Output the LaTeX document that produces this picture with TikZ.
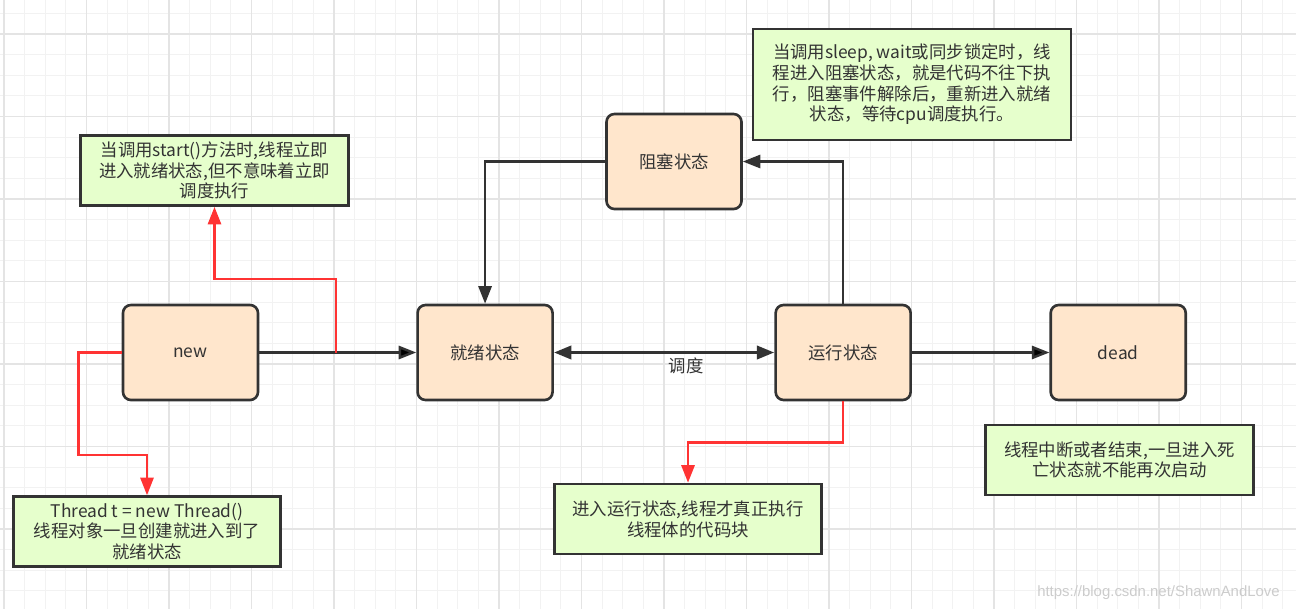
\documentclass[tikz,border=0pt]{standalone}
\usepackage{fontspec}
\setmainfont{Noto Sans CJK SC}
\newfontfamily\wmfont{Liberation Sans}
\usetikzlibrary{arrows.meta,positioning}
\definecolor{boxfill}{HTML}{FFE6CC}
\definecolor{notefill}{HTML}{E6FFCC}
\definecolor{linedark}{HTML}{333333}
\definecolor{hotred}{HTML}{FF3333}
\definecolor{gridminor}{HTML}{F2F2F2}
\definecolor{gridmajor}{HTML}{E4E4E4}
\newcommand{\diagfont}{\fontsize{9.9}{11.8}\selectfont}

\begin{document}
\begin{tikzpicture}[x=0.02cm,y=-0.02cm,>={Triangle[length=10pt,width=7.5pt]},line width=1.4pt,
  state node/.style={rectangle,rounded corners=4.5pt,fill=boxfill,draw=linedark,line width=1.5pt,
    minimum width=2.7cm,minimum height=1.9cm,inner sep=0pt,text=linedark,font=\diagfont},
  note node/.style={rectangle,fill=notefill,draw=linedark,line width=1.5pt,minimum width=5.35cm,
    minimum height=1.4cm,inner sep=0pt,align=center,text=linedark,font=\diagfont},
  flow/.style={draw=linedark,->},
  hint/.style={draw=hotred,->}]

  \useasboundingbox (0,0) rectangle (1296,609);
  \fill[white] (0,0) rectangle (1296,609);
  % grid
  \foreach \k in {0,...,62} \draw[gridminor,line width=0.7pt] ({4+20.625*\k},0) -- ({4+20.625*\k},609);
  \foreach \k in {0,...,29} \draw[gridminor,line width=0.7pt] (0,{13.375+20.625*\k}) -- (1296,{13.375+20.625*\k});
  \foreach \k in {0,...,15} \draw[gridmajor,line width=0.8pt] ({4+82.5*\k},0) -- ({4+82.5*\k},609);
  \foreach \k in {0,...,7} \draw[gridmajor,line width=0.8pt] (0,{34+82.5*\k}) -- (1296,{34+82.5*\k});

  \node[state node] (1) at (190.5,352.5) {new};
  \node[state node] (2) [right=3.14cm of 1] {就绪状态};
  \node[state node] (4) [right=4.41cm of 2] {运行状态};
  \node[state node] (5) [right=2.75cm of 4] {dead};
  \node[state node] (3) at (674,161.5) {阻塞状态};

  \node[note node] (n1) at (214.5,170.5) {当调用start()方法时,线程立即\\进入就绪状态,但不意味着立即\\调度执行};
  \node[note node] (n2) at (147,531.5) {Thread t = new Thread()\\线程对象一旦创建就进入到了\\就绪状态};
  \node[note node,minimum width=6.36cm,minimum height=2.22cm] (n3) at (912,84.5)
    {当调用sleep, wait或同步锁定时，线\\程进入阻塞状态，就是代码不往下执\\行，阻塞事件解除后，重新进入就绪\\状态，等待cpu调度执行。};
  \node[note node] (n4) at (688,519) {进入运行状态,线程才真正执行\\线程体的代码块};
  \node[note node] (n5) at (1119.5,460) {线程中断或者结束,一旦进入死\\亡状态就不能再次启动};

  \node[text=black!20,font=\wmfont\fontsize{8.5}{10}\selectfont] (wm) at (1158.5,593) {https://blog.csdn.net/ShawnAndLove};

  \path[flow]
    (1) edge (2)
    (4) edge (5);
  \draw[flow,<->,line width=2pt] (2) -- node[pos=.6,below,inner sep=2pt,text=linedark,font=\diagfont] (sched) {调度} (4);
  \draw[flow] (4) |- (3);
  \draw[flow] (3) -| (2);

  %\coordinate (c0) at (1.east);
  \coordinate (c1) at (336,352.5);
  \draw[hint] (c1) -- ++(0,-73.5) -| (n1);
  \draw[hint] (1.west) -- ++(-43,0) -- ++(0,102.5) -| (n2);
  \draw[hint] (4.south) -- ++(0,41) -| (n4);
\end{tikzpicture}
\end{document}
